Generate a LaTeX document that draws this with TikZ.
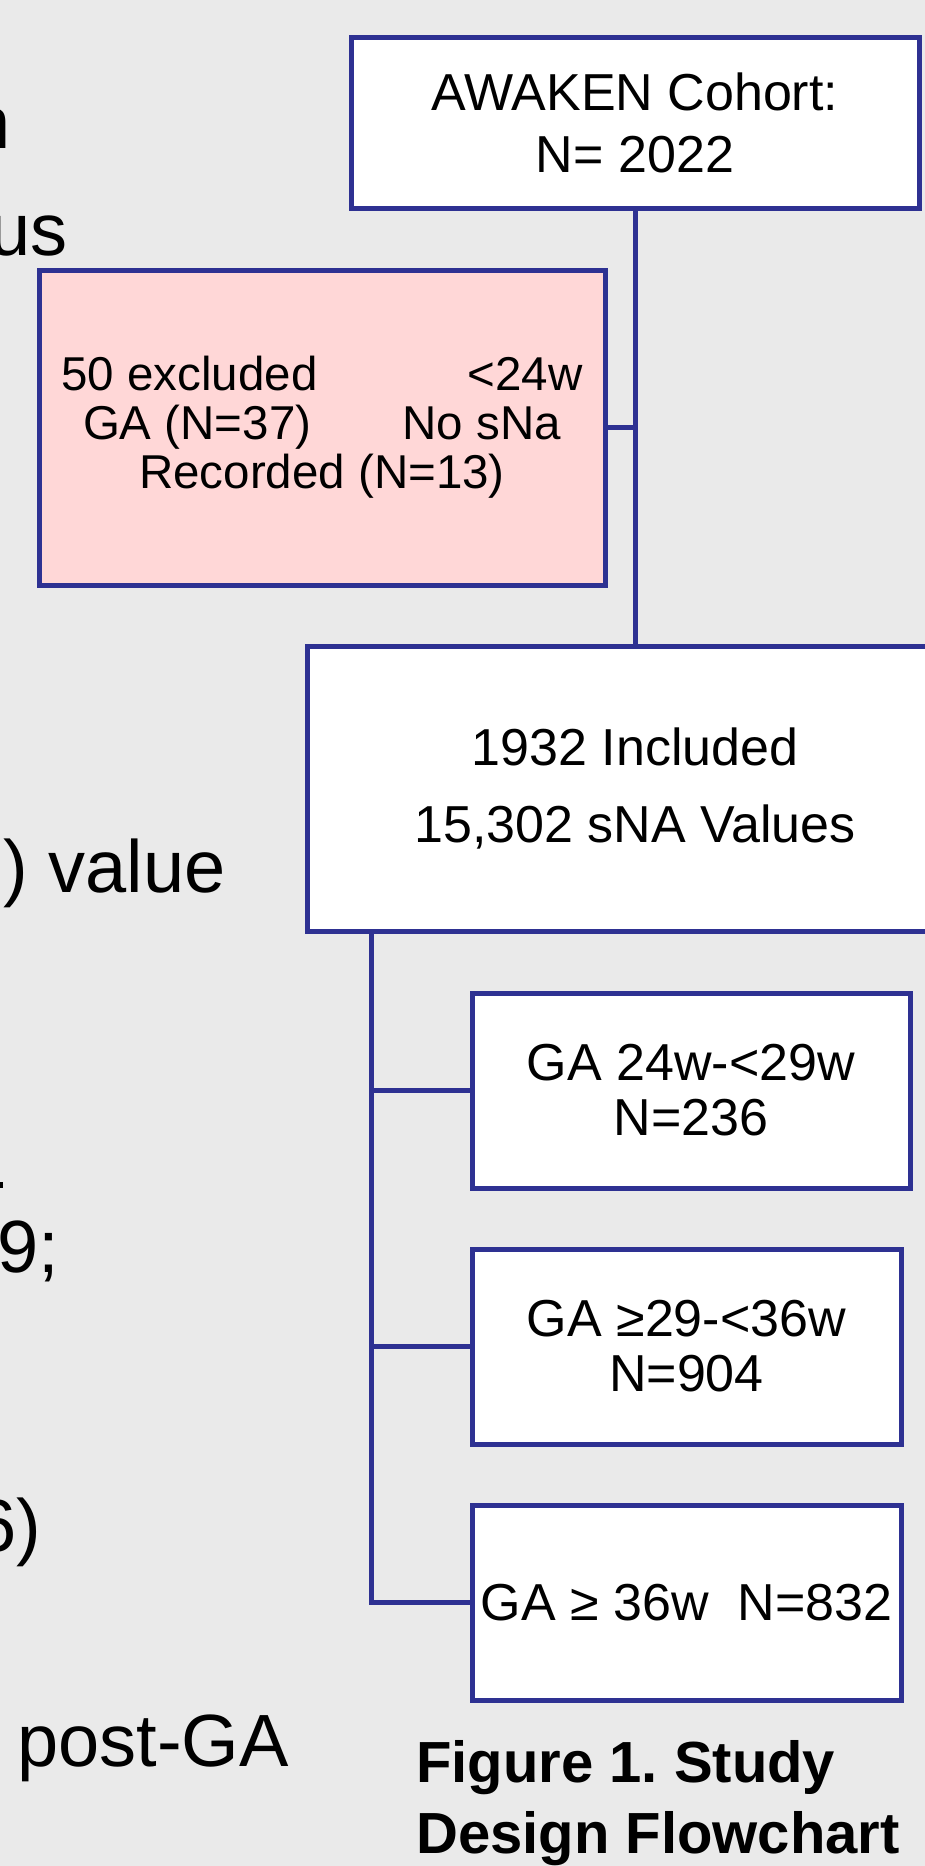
\documentclass[tikz,border=0pt]{standalone}
\usepackage{fontspec}
\setmainfont{Liberation Sans}
\definecolor{bgc}{HTML}{EAEAEA}
\definecolor{navy}{HTML}{2E3192}
\definecolor{pinkc}{HTML}{FFD7D7}
\frenchspacing
\begin{document}
\begin{tikzpicture}[x=1pt,y=-1pt,
  box/.style={draw=navy,line width=5pt,fill=white,rectangle,inner sep=0pt,align=center,
              font=\fontsize{52}{62}\selectfont},
  conn/.style={draw=navy,line width=5pt},
  side/.style={inner sep=0pt,font=\fontsize{74}{89}\selectfont},
  capt/.style={inner sep=0pt,anchor=base west,font=\fontsize{58}{71}\selectfont\bfseries}]
\fill[bgc] (0,0) rectangle (925,1866);
\useasboundingbox (0,0) rectangle (925,1866);
\clip (0,0) rectangle (925,1866);

% partial text on the left (cut off at the left edge, as in the original)
\node[side,anchor=base east] (tn) at (11,148) {n};
\node[side,anchor=base east] (tus) at (68,255) {us};
\node[side,anchor=base east] (tval) at (226,892) {) value};
\fill[black] (0,1182) rectangle (3,1188);
\node[side,anchor=base east] (tnine) at (59,1272) {9;};
\node[side,anchor=base east] (tsix) at (41,1551) {6)};
\node[side,anchor=base west] (tpost) at (17,1766) {post-GA};

% boxes
\node[box,minimum width=568pt,minimum height=171pt] (b1) at (635,122.5)
  {AWAKEN Cohort:\\N= 2022};
\node[box,fill=pinkc,minimum width=566pt,minimum height=315pt,
      font=\fontsize{47.5}{49}\selectfont] (pk) at (322,427.5)
  {\makebox[521pt]{50 excluded\hfill<24w}\\
   \makebox[478pt]{GA (N=37)\hfill No sNa}\\
   Recorded (N=13)};
\node[box,minimum width=656pt,minimum height=285pt,
      font=\fontsize{52}{77}\selectfont] (b2) at (635,788.5)
  {1932 Included\\15,302 sNA Values};
\node[box,minimum width=438pt,minimum height=195pt,
      font=\fontsize{52}{55}\selectfont] (b3) at (691,1090.5)
  {GA 24w-<29w\\N=236};
\node[box,minimum width=429pt,minimum height=195pt,
      font=\fontsize{52}{55}\selectfont] (b4) at (686.5,1346.5)
  {GA ≥29-<36w\\N=904};
\node[box,minimum width=429pt,minimum height=195pt] (b5) at (686.5,1602.5)
  {GA ≥ 36w\ \ N=832};

% connectors
\draw[conn] (b1.south) -- (b2.north);
\draw[conn] (pk.east) -- (pk.east -| b1.south);
\coordinate (trunk) at ([xshift=67pt]b2.south west);
\draw[conn] (trunk) |- (b5.west);
\draw[conn] (b3.west) -- (b3.west -| trunk);
\draw[conn] (b4.west) -- (b4.west -| trunk);

% caption
\node[capt] (cap1) at (416,1782) {Figure 1. Study};
\node[capt] (cap2) at (416,1853) {Design Flowchart};
\end{tikzpicture}
\end{document}
